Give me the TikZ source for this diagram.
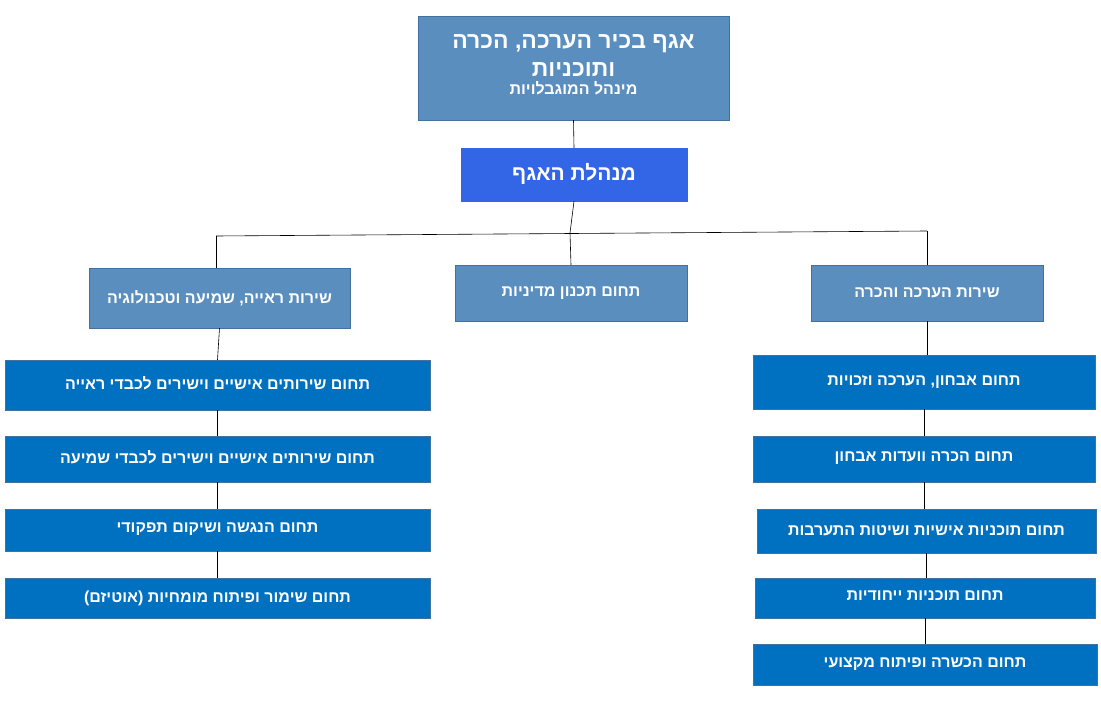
\documentclass[tikz,border=0pt]{standalone}
\usepackage{fontspec}
\setmainfont{Liberation Sans}
\newfontfamily\hebfont[Script=Hebrew]{Liberation Sans}
\TeXXeTstate=1
\newcommand{\heb}[1]{{\hebfont\bfseries\beginR #1\endR}}
\definecolor{steel}{HTML}{5A8EBF}
\definecolor{headblue}{HTML}{3366E6}
\definecolor{unitblue}{HTML}{0070C0}
\definecolor{edgeblue}{HTML}{41719C}
\tikzset{
  box/.style={draw=edgeblue, text=white, inner sep=0pt, align=center,
    font=\fontsize{16}{19}\selectfont},
  service/.style={box, fill=steel},
  unit/.style={box, fill=unitblue},
  link/.style={draw=black, line width=0.6pt}
}
\begin{document}
\begin{tikzpicture}[x=1pt,y=-1pt]
\useasboundingbox[fill=white] (0,0) rectangle (1101,701);
%Nodes
\node[service, minimum width=311, minimum height=104,
  font=\fontsize{23}{28}\selectfont] (top) at (573.5,68)
  {\raisebox{6pt}{\heb{אגף בכיר הערכה, הכרה}}\\
   \raisebox{6pt}{\heb{ותוכניות}}\\[-10pt]
   {\fontsize{16}{19}\selectfont\raisebox{6pt}{\heb{מינהל המוגבלויות}}}};
\node[box, fill=headblue, draw=headblue, minimum width=226, minimum height=53,
  font=\fontsize{21}{25}\selectfont] (head) at (574,174.5) {\raisebox{6pt}{\heb{מנהלת האגף}}};
\node[service, minimum width=261, minimum height=60] (sight) at (219.5,298)
  {\raisebox{-9pt}{\heb{שירות ראייה, שמיעה וטכנולוגיה}}};
\node[service, minimum width=232, minimum height=56] (policy) at (571,293)
  {\heb{תחום תכנון מדיניות}};
\node[service, minimum width=232, minimum height=56] (assess) at (927,293)
  {\heb{שירות הערכה והכרה}};

\node[unit, minimum width=425, minimum height=50] (L1) at (217.5,385)
  {\raisebox{4pt}{\heb{תחום שירותים אישיים וישירים לכבדי ראייה}}};
\node[unit, minimum width=425, minimum height=46] (L2) at (217.5,459)
  {\raisebox{4pt}{\heb{תחום שירותים אישיים וישירים לכבדי שמיעה}}};
\node[unit, minimum width=425, minimum height=42] (L3) at (217.5,530)
  {\raisebox{4pt}{\heb{תחום הנגשה ושיקום תפקודי}}};
\node[unit, minimum width=425, minimum height=40] (L4) at (217.5,598)
  {\heb{תחום שימור ופיתוח מומחיות (אוטיזם)}};

\node[unit, minimum width=342, minimum height=54] (R1) at (924,382)
  {\heb{תחום אבחון, הערכה וזכויות}};
\node[unit, minimum width=342, minimum height=46] (R2) at (924,459)
  {\raisebox{4pt}{\heb{תחום הכרה וועדות אבחון}}};
\node[unit, minimum width=339, minimum height=44] (R3) at (926.5,531)
  {\heb{תחום תוכניות אישיות ושיטות התערבות}};
\node[unit, minimum width=340, minimum height=40] (R4) at (925,598)
  {\raisebox{4pt}{\heb{תחום תוכניות ייחודיות}}};
\node[unit, minimum width=344, minimum height=41] (R5) at (925,664.5)
  {\heb{תחום הכשרה ופיתוח מקצועי}};

\coordinate (bus) at (570,233);
\coordinate (busL) at (216,236);
\coordinate (busR) at (927,231);

%Lines
\draw[link] (top.south) -- (head.north);
\draw[link] (head.south) -- (bus);
\draw[link] (busL) -- (busR);
\draw[link] (busL) -- (busL |- sight.north);
\draw[link] (busR) -- (busR |- assess.north);
\draw[link] (bus) -- (policy.north);
\draw[link] (sight.south) -- (L1.north);
\draw[link] (L1.south) -- (L2.north);
\draw[link] (L2.south) -- (L3.north);
\draw[link] (L3.south) -- (L4.north);
\draw[link] (assess.south) -- (assess.south |- R1.north);
\draw[link] (R1.south) -- (R1.south |- R2.north);
\draw[link] (R2.south) -- (R2.south |- R3.north);
\draw[link] (R3.south) -- (R3.south |- R4.north);
\draw[link] (R4.south) -- (R4.south |- R5.north);
\end{tikzpicture}
\end{document}
